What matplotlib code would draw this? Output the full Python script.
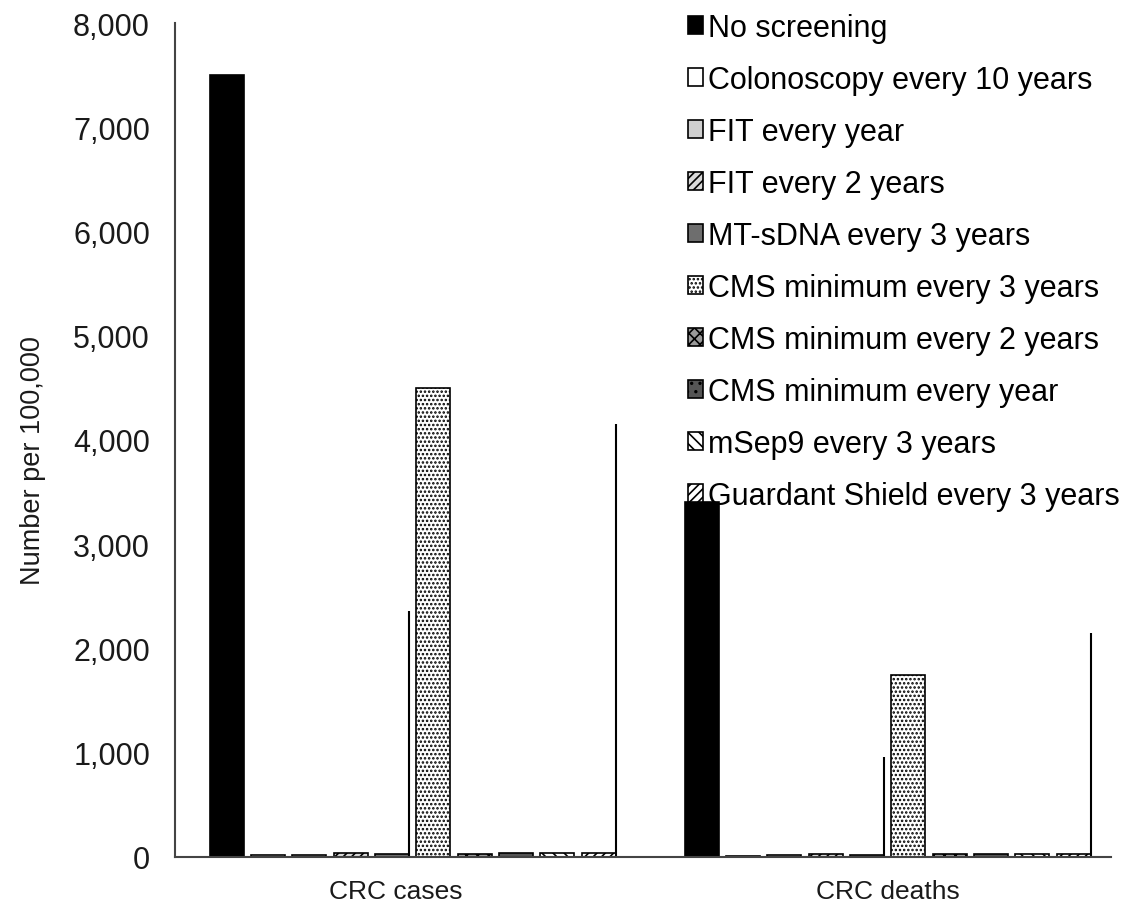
import matplotlib
matplotlib.use("Agg")
import matplotlib.pyplot as plt
import numpy as np
from matplotlib.ticker import StrMethodFormatter

plt.rcParams['font.family'] = ['Liberation Sans', 'DejaVu Sans']
plt.rcParams['hatch.linewidth'] = 1.2

groups = ["CRC cases", "CRC deaths"]
strategies = [
    "No screening",
    "Colonoscopy every 10 years",
    "FIT every year",
    "FIT every 2 years",
    "MT-sDNA every 3 years",
    "CMS minimum every 3 years",
    "CMS minimum every 2 years",
    "CMS minimum every year",
    "mSep9 every 3 years",
    "Guardant Shield every 3 years",
]
# one row per strategy: [cases, deaths]
values = [
    [7500, 3410],
    [15, 10],
    [20, 15],
    [35, 25],
    [30, 20],
    [4500, 1750],
    [30, 25],
    [35, 25],
    [40, 30],
    [40, 30],
]
# thin outline strokes standing at the right edge of two bars
mtsdna_stroke = [2360, 960]
shield_stroke = [4150, 2150]

fills = ["black", "white", "#cfcfcf", "#d9d9d9", "#6e6e6e",
         "white", "#9a9a9a", "#555555", "white", "white"]
hatches = [None, None, None, "////", None,
           "....", "xxx", "..", "\\\\\\", "////"]

fig = plt.figure(figsize=(11.35, 9.12), dpi=100)
ax = fig.add_axes([175 / 1135, 1 - 858 / 912, 936 / 1135, 834 / 912])

x = np.arange(len(groups))
slot = 0.087
width = 0.0716
for i, (name, vals) in enumerate(zip(strategies, values)):
    pos = x + (i - 4.5) * slot
    ax.bar(pos, vals, width, color=fills[i], edgecolor="black",
           linewidth=1.2, hatch=hatches[i], label=name)

ax.vlines(x - 0.5 * slot + width / 2, 0, mtsdna_stroke, color="black", linewidth=1.5)
ax.vlines(x + 4.5 * slot + width / 2, 0, shield_stroke, color="black", linewidth=1.5)

ax.set_xlim(-0.5, 1.47)
ax.set_ylim(0, 8000)
ax.set_yticks(np.arange(0, 8001, 1000))
ax.yaxis.set_major_formatter(StrMethodFormatter("{x:,.0f}"))
ax.set_xticks(x - 0.035 * np.array([1, 0]))
ax.set_xticklabels(groups, fontsize=19)
ax.tick_params(axis="y", length=0, pad=18, labelsize=22, labelcolor="#1a1a1a")
ax.tick_params(axis="x", length=0, pad=16, labelcolor="#1a1a1a")
for side in ["top", "right"]:
    ax.spines[side].set_visible(False)
for side in ["left", "bottom"]:
    ax.spines[side].set_color("#444444")
    ax.spines[side].set_linewidth(1.5)

ax.set_ylabel("Number per 100,000", fontsize=19.5, color="#1a1a1a")
ax.yaxis.set_label_coords(-0.138, 0.477)

ax.legend(loc="upper left", bbox_to_anchor=(688 / 1135, 0.985),
          bbox_transform=fig.transFigure, frameon=False, fontsize=22,
          handlelength=0.5, handleheight=0.5, handletextpad=0.15,
          labelspacing=0.72, borderpad=0, borderaxespad=0)

fig.savefig("out.png", dpi=100)
